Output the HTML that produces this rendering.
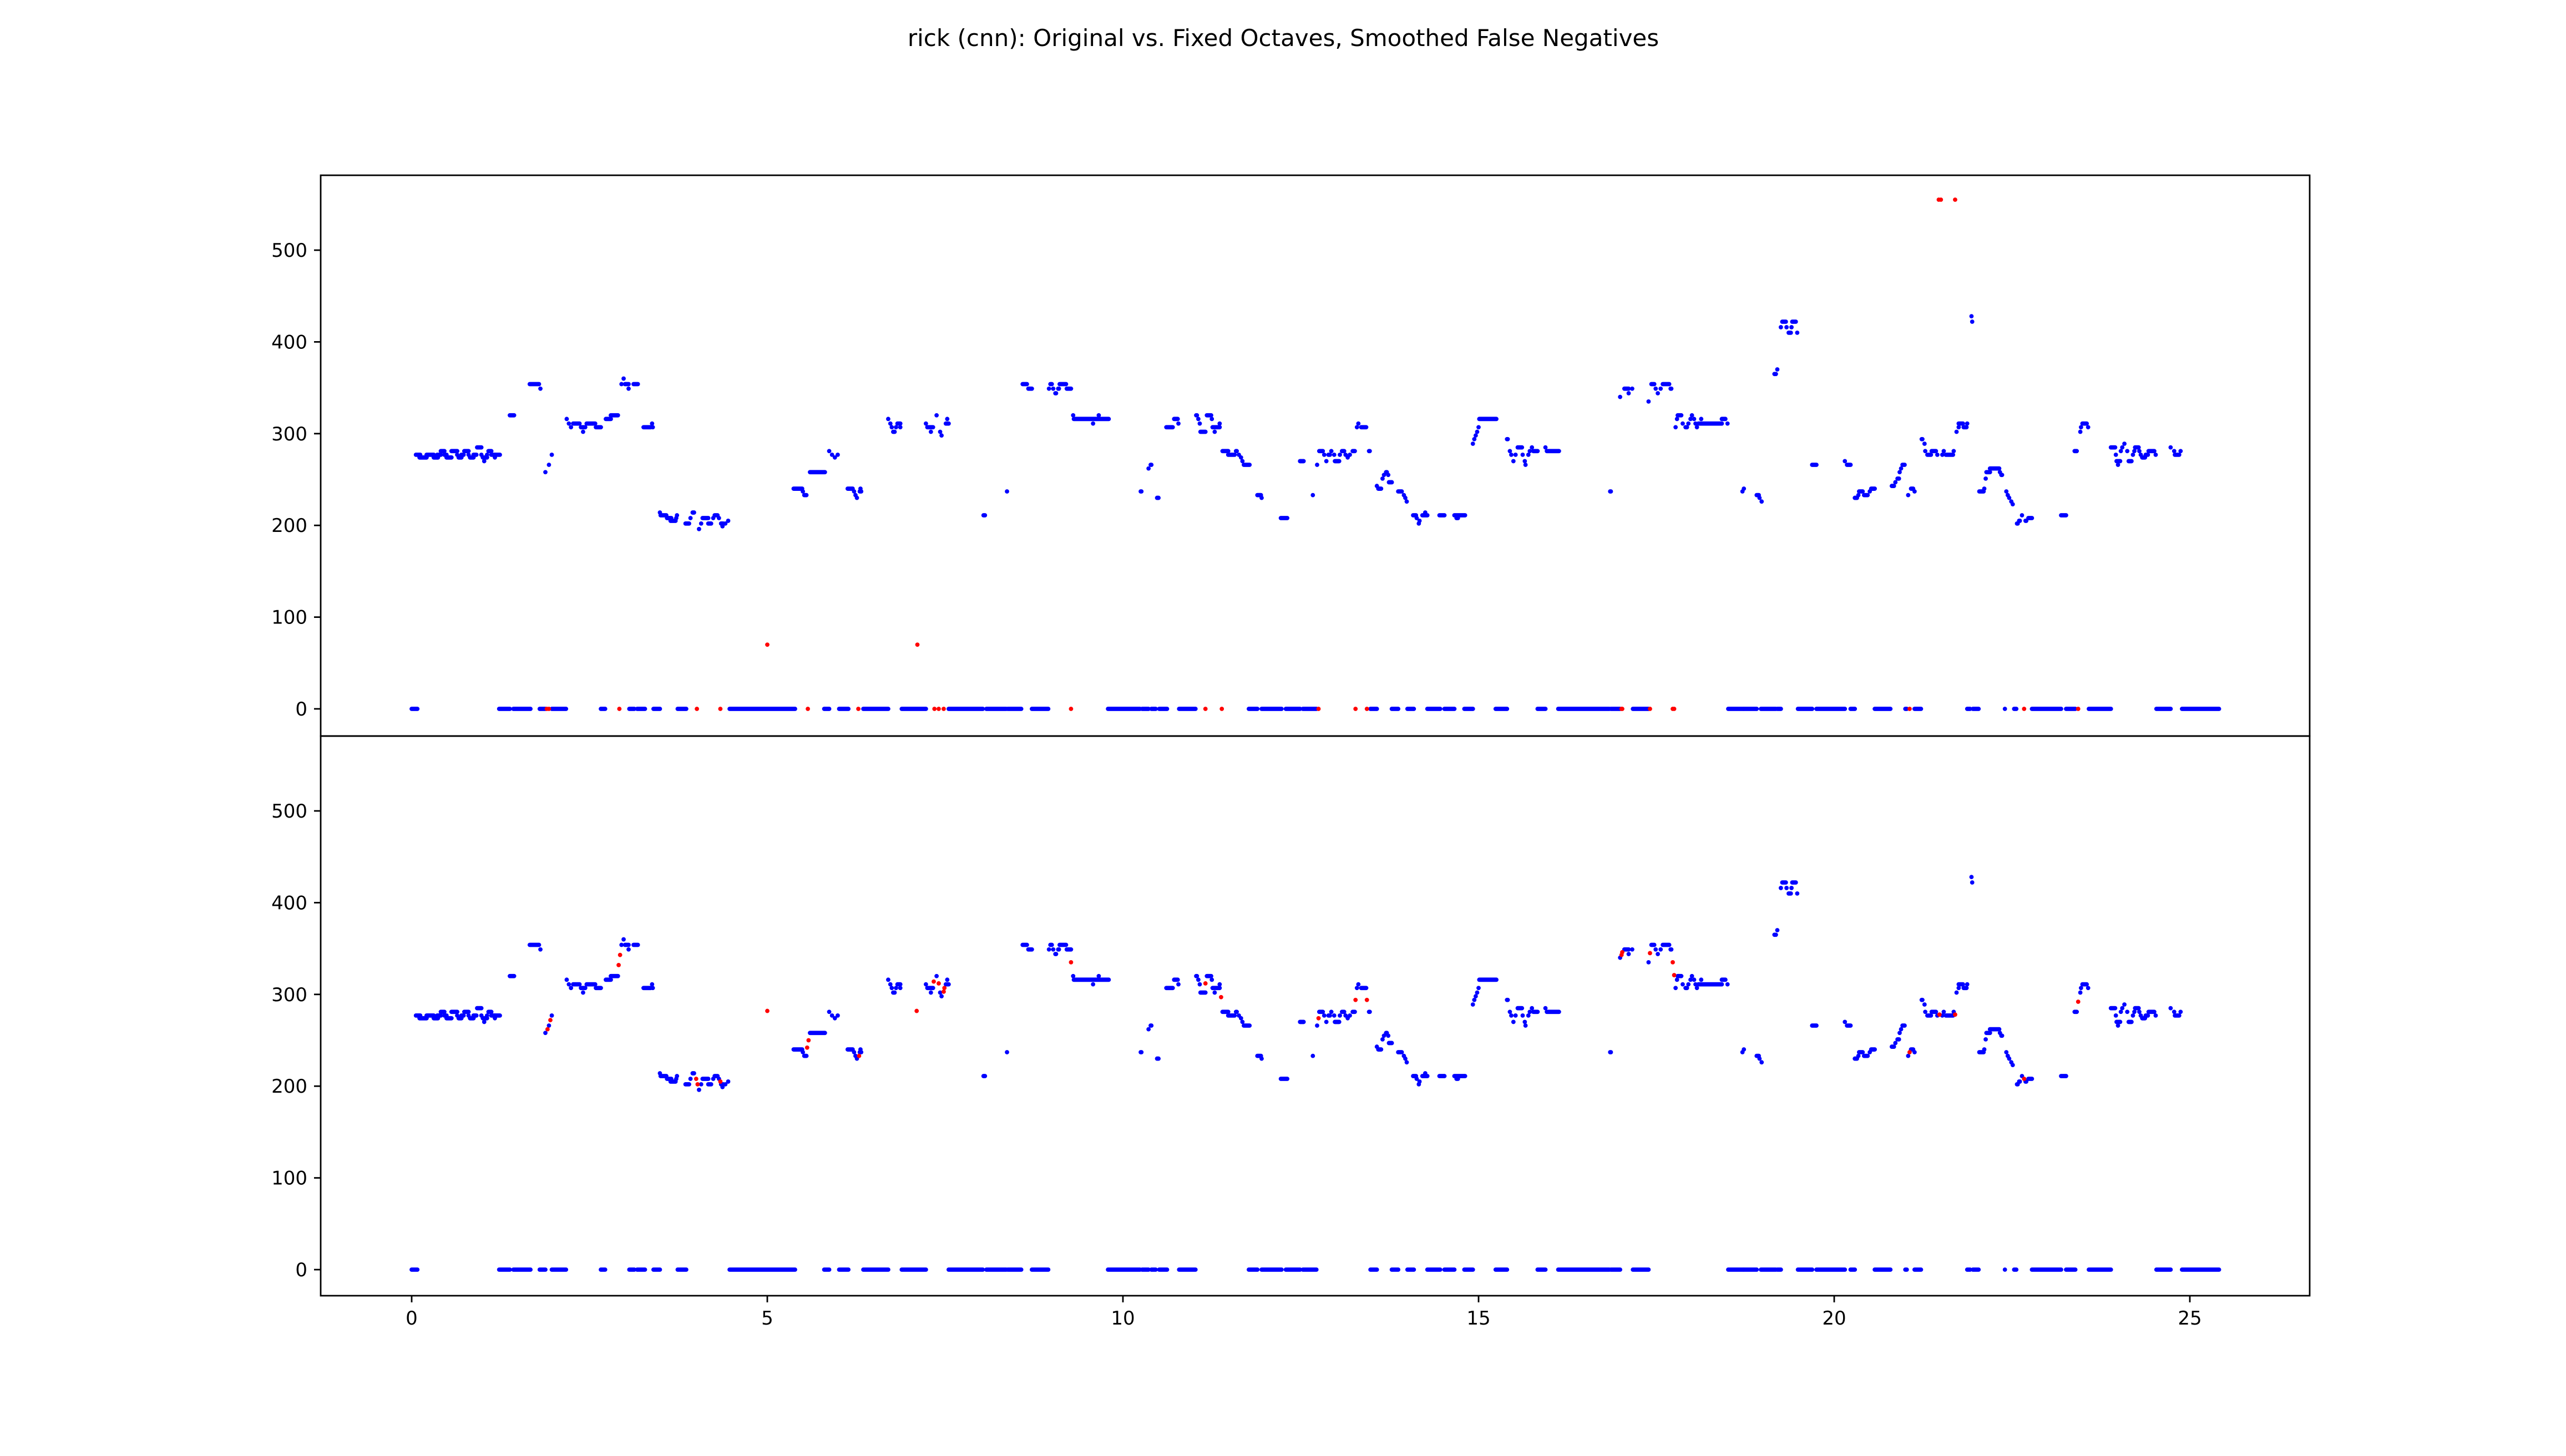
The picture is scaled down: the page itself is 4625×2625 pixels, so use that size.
<!DOCTYPE html>
<html><head><meta charset="utf-8"><title>rick (cnn) pitch</title>
<style>html,body{margin:0;padding:0;background:#fff;}svg{display:block;}text{font-family:"DejaVu Sans","Liberation Sans",sans-serif;fill:#000;}</style>
</head><body>
<svg id="fig" width="4625" height="2625" viewBox="0 0 4625 2625" xmlns="http://www.w3.org/2000/svg">
<rect width="4625" height="2625" fill="#fff"/>
<text x="2313" y="83" font-size="42" text-anchor="middle">rick (cnn): Original vs. Fixed Octaves, Smoothed False Negatives</text>
<g id="top"></g>
<g id="bot"></g>
</svg>
<script>
// ---- data ----
const voicedStart=[0.06,0.11,0.21,0.31,0.36,0.41,0.46,0.49,0.56,0.64,0.66,0.70,0.74,0.80,0.82,0.87,0.92,0.98,1.00,1.02,1.06,1.08,1.12,1.17,1.17,
1.38,1.66,1.81,1.88,1.93,1.97,2.18,2.21,2.24,2.27,2.38,2.41,2.46,2.59,2.73,2.80,2.98,2.95,3.00,3.05,3.12,3.26,3.38,3.39,3.49,3.50,3.59,3.64,3.72,3.73,3.85,3.92,3.95,4.04,4.07,4.09,4.17,4.24,4.26,4.32,4.35,4.37,4.41,4.45,
5.37,5.50,5.52,5.60,5.87,5.91,5.95,5.99,6.13,6.22,6.24,6.26,6.30,6.31,
6.70,6.73,6.75,6.77,6.81,6.83,6.87,7.23,7.25,7.30,7.38,7.43,7.45,7.51,7.53,8.04,8.37,8.59,8.67,8.96,8.98,9.02,9.05,9.09,9.11,9.21,9.30,9.31,9.58,9.66,
10.25,10.36,10.39,10.48,10.61,10.72,10.78,11.03,11.06,11.08,11.09,11.18,11.25,11.26,11.29,11.36,11.40,11.48,11.59,11.63,11.66,11.68,11.70,11.89,11.95,12.22,12.49,12.67,12.73,12.76,
12.83,12.86,12.89,12.93,12.97,12.98,13.05,13.08,13.13,13.16,13.19,13.23,13.29,13.31,13.35,13.46,13.57,13.59,13.65,13.67,13.70,13.73,13.74,13.87,13.95,13.97,13.99,
14.08,14.13,14.16,14.17,14.21,14.25,14.45,14.66,14.69,14.92,14.94,14.96,14.98,15.00,15.01,15.40,15.44,15.46,15.49,15.52,15.55,15.62,15.65,15.66,15.70,15.72,15.75,15.77,15.94,15.96,
16.85,16.99,17.05,17.11,17.16,17.39,17.43,17.49,17.52,17.56,17.59,17.70,17.77,17.79,17.80,17.87,17.91,17.95,17.98,18.00,18.03,18.05,18.07,18.09,18.13,18.42,18.50,18.71,18.73,18.91,18.95,18.98,19.16,
19.18,19.20,19.25,19.27,19.33,19.36,19.40,19.41,19.48,19.69,20.15,20.18,20.29,20.34,20.35,20.42,20.50,20.52,20.81,20.86,20.89,20.92,20.94,20.96,21.04,21.08,21.13,
21.23,21.27,21.28,21.31,21.37,21.45,21.52,21.54,21.57,21.68,21.72,21.75,21.75,21.82,21.87,21.93,21.94,22.04,22.11,22.13,22.14,22.19,22.33,22.35,22.42,22.44,22.46,22.49,22.51,22.57,22.60,22.64,22.69,22.73,
23.19,23.38,23.46,23.47,23.49,23.57,23.89,23.96,23.97,23.99,24.03,24.05,24.08,24.12,24.14,24.20,24.22,24.23,24.29,24.31,24.33,24.38,24.42,24.52,24.73,24.78,24.79,24.87];
const voicedEnd=[0.12,0.21,0.31,0.37,0.41,0.46,0.49,0.56,0.64,0.64,0.70,0.73,0.80,0.80,0.87,0.91,0.98,0.98,1.06,1.02,1.06,1.12,1.17,1.17,1.24,
1.44,1.79,1.81,1.88,1.93,1.97,2.18,2.21,2.24,2.36,2.44,2.41,2.58,2.66,2.80,2.90,2.98,2.95,3.05,3.05,3.18,3.36,3.38,3.39,3.49,3.58,3.65,3.71,3.72,3.73,3.90,3.92,3.97,4.04,4.07,4.17,4.21,4.24,4.30,4.32,4.38,4.37,4.41,4.45,
5.49,5.50,5.55,5.81,5.87,5.91,5.95,5.99,6.20,6.22,6.24,6.26,6.32,6.31,
6.70,6.73,6.75,6.79,6.81,6.87,6.87,7.23,7.33,7.30,7.38,7.43,7.45,7.55,7.53,8.06,8.37,8.65,8.72,8.96,9.00,9.02,9.06,9.10,9.20,9.27,9.30,9.80,9.58,9.66,
10.26,10.36,10.40,10.50,10.70,10.77,10.78,11.04,11.06,11.08,11.16,11.24,11.25,11.36,11.29,11.36,11.48,11.57,11.60,11.63,11.66,11.68,11.78,11.94,11.95,12.31,12.54,12.67,12.73,12.81,
12.83,12.86,12.91,12.93,12.97,13.04,13.05,13.11,13.13,13.16,13.19,13.26,13.29,13.31,13.42,13.47,13.57,13.63,13.65,13.67,13.71,13.73,13.78,13.92,13.95,13.97,13.99,
14.12,14.13,14.16,14.17,14.28,14.25,14.52,14.81,14.71,14.92,14.94,14.96,14.98,15.00,15.25,15.41,15.44,15.46,15.49,15.52,15.61,15.62,15.65,15.66,15.70,15.72,15.75,15.83,15.94,16.13,
16.86,16.99,17.11,17.11,17.16,17.39,17.47,17.49,17.52,17.56,17.68,17.71,17.77,17.79,17.85,17.87,17.93,17.95,17.98,18.00,18.03,18.05,18.07,18.42,18.13,18.47,18.50,18.71,18.73,18.94,18.95,18.98,19.16,
19.18,19.20,19.25,19.32,19.33,19.39,19.40,19.46,19.48,19.75,20.15,20.23,20.32,20.34,20.40,20.47,20.50,20.57,20.84,20.86,20.91,20.92,20.94,20.99,21.04,21.11,21.13,
21.24,21.27,21.28,21.36,21.43,21.45,21.52,21.54,21.67,21.68,21.72,21.75,21.81,21.86,21.87,21.93,21.94,22.10,22.11,22.13,22.19,22.32,22.33,22.36,22.42,22.44,22.46,22.49,22.51,22.58,22.61,22.64,22.70,22.78,
23.26,23.41,23.46,23.47,23.55,23.57,23.95,23.96,24.02,23.99,24.03,24.05,24.08,24.12,24.18,24.20,24.22,24.28,24.29,24.31,24.37,24.41,24.50,24.52,24.73,24.78,24.85,24.87];
const voicedHz=[277,274,277,274,277,281,277,274,281,277,274,277,281,277,274,277,285,277,274,270,277,281,277,274,277,
320,354,349,258,266,277,316,311,307,311,307,302,311,307,316,320,360,354,354,349,354,307,311,307,214,211,208,205,208,211,202,208,214,196,202,208,202,208,211,208,202,199,202,205,
240,237,233,258,281,277,274,277,240,237,233,230,237,240,
316,311,307,302,307,311,307,311,307,302,320,302,298,311,316,211,237,354,349,349,354,349,344,349,354,349,320,316,311,320,
237,262,266,230,307,316,311,320,316,311,302,320,316,307,302,311,281,277,281,277,274,270,266,233,230,208,270,233,266,281,
277,270,277,281,277,270,277,281,277,274,277,281,307,311,307,281,243,240,251,255,258,255,247,237,233,230,226,
211,208,202,205,211,214,211,211,208,289,294,298,302,307,316,294,281,277,270,277,285,277,270,266,277,281,285,281,285,281,
237,340,349,344,349,335,354,349,344,349,354,349,307,316,320,311,307,311,316,320,316,311,307,311,316,316,311,237,240,233,230,226,365,
365,370,416,422,416,410,416,422,410,266,270,266,230,233,237,233,237,240,243,247,251,258,262,266,233,240,237,
294,289,281,277,281,277,277,281,277,281,302,307,311,307,311,428,422,237,240,251,258,262,258,255,237,233,230,226,223,202,205,211,205,208,
211,281,302,307,311,307,285,277,270,266,281,285,289,281,270,277,281,285,281,277,274,277,281,277,285,281,277,281];
const zeroStart=[0.00,1.23,1.43,1.80,1.97,2.66,3.06,3.17,3.40,3.74,4.47,5.80,6.01,6.35,6.89,7.55,8.08,8.38,8.72,9.79,10.27,10.40,10.51,10.79,11.77,11.95,12.29,12.53,13.48,13.78,14.00,14.28,14.52,14.80,15.24,15.83,16.12,16.86,17.17,18.51,18.73,18.97,19.20,19.49,19.75,20.23,20.57,21.00,21.13,21.87,21.95,22.40,22.53,22.78,23.26,23.58,24.53,24.89];
const zeroEnd=[0.08,1.38,1.67,1.88,2.17,2.72,3.13,3.28,3.49,3.86,5.39,5.87,6.14,6.70,7.23,8.03,8.36,8.57,8.95,10.24,10.36,10.46,10.62,11.02,11.89,12.23,12.49,12.72,13.57,13.87,14.09,14.46,14.66,14.92,15.40,15.94,16.84,16.99,17.39,18.72,18.91,19.18,19.25,19.69,20.15,20.29,20.79,21.02,21.22,21.91,22.03,22.40,22.56,23.19,23.39,23.89,24.73,25.41];
const redTopT=[1.90,1.93,2.92,4.01,4.34,5.57,6.28,7.35,7.41,7.48,9.27,11.16,11.39,12.75,13.27,13.43,17.01,17.02,17.41,17.73,17.75,21.06,22.67,23.43,5.00,7.11,21.47,21.50,21.70];
const redTopHz=[0,0,0,0,0,0,0,0,0,0,0,0,0,0,0,0,0,0,0,0,0,0,0,0,70,70,555,555,555];
const redBotT=[1.91,1.95,2.91,2.93,4.00,4.02,4.34,5.00,5.56,5.58,6.29,7.10,7.34,7.41,7.48,7.49,9.27,11.16,11.38,12.75,13.27,13.43,17.01,17.02,17.41,17.73,17.75,21.06,21.48,21.70,22.67,23.43];
const redBotHz=[262,272,332,343,208,202,205,282,242,250,233,282,314,312,303,307,335,312,297,274,294,294,343,346,345,335,321,237,278,278,208,292];
const yTicks=[0,100,200,300,400,500];
const xTicks=[0,5,10,15,20,25];

// ---- layout ----
const NS='http://www.w3.org/2000/svg';
const AX_L=578, AX_R=4163;
const PX_PER_S=128.2, X0=742, PX_PER_HZ=1.654;
function xs(t){return X0+t*PX_PER_S;}
function mk(tag,attrs,parent){const e=document.createElementNS(NS,tag);for(const k in attrs)e.setAttribute(k,attrs[k]);parent.appendChild(e);return e;}

function drawPanel(g,top,bottom,zeroY,redT,redHz,showX,label){
  const ys=f=>zeroY-f*PX_PER_HZ;
  const marks=mk('g',{},g);
  
  
  const dot=(t0,t1,f,col,parent)=>{
    if(Math.abs(t1-t0)<1e-6){mk('circle',{cx:xs(t0),cy:ys(f),r:3.9,fill:col},parent);}
    else{mk('line',{x1:xs(t0),x2:xs(t1),y1:ys(f),y2:ys(f),stroke:col,'stroke-width':7.8,'stroke-linecap':'round'},parent);}
  };
  for(let i=0;i<voicedStart.length;i++)dot(voicedStart[i],voicedEnd[i],voicedHz[i],'#0000ff',marks);
  for(let i=0;i<zeroStart.length;i++)dot(zeroStart[i],zeroEnd[i],0,'#0000ff',marks);
  const reds=mk('g',{},g);
  
  
  for(let i=0;i<redT.length;i++)dot(redT[i],redT[i],redHz[i],'#ff0000',reds);
  const frame=mk('rect',{x:AX_L,y:top,width:AX_R-AX_L,height:bottom-top,fill:'none',stroke:'#000','stroke-width':2.8},g);
  
  
  for(const v of yTicks){
    const y=ys(v);
    mk('line',{x1:AX_L-12,x2:AX_L,y1:y,y2:y,stroke:'#000','stroke-width':2.8},g);
    const tx=mk('text',{x:AX_L-24,y:y+12,'font-size':34,'text-anchor':'end'},g);
    tx.textContent=v;
    
    
  }
  if(showX){
    for(const v of xTicks){
      const x=xs(v);
      mk('line',{x1:x,x2:x,y1:bottom,y2:bottom+12,stroke:'#000','stroke-width':2.8},g);
      const tx=mk('text',{x:x,y:bottom+52,'font-size':34,'text-anchor':'middle'},g);
      tx.textContent=v;
      
      
    }
  }
}
drawPanel(document.getElementById('top'),316,1327,1278,redTopT,redTopHz,false,'top');
drawPanel(document.getElementById('bot'),1327,2336,2289,redBotT,redBotHz,true,'bottom');
</script>
</body></html>
